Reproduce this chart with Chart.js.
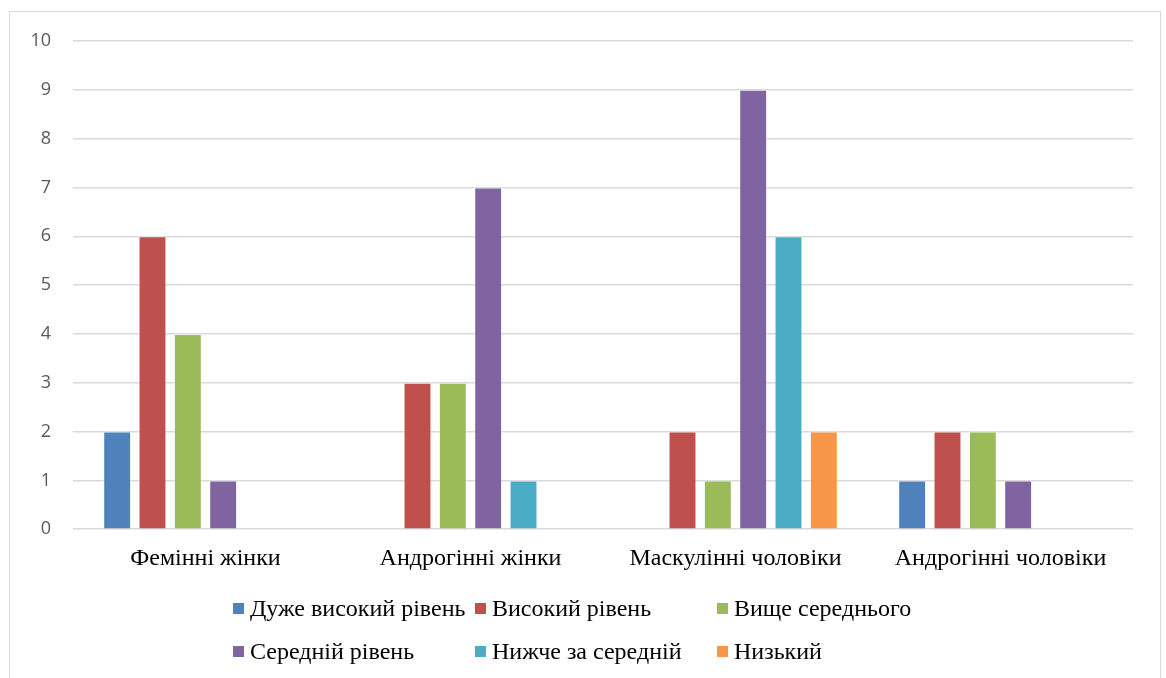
<!DOCTYPE html>
<html lang="uk">
<head>
    <meta charset="UTF-8">
    <title>Рівні за групами</title>
    <script src="https://cdn.jsdelivr.net/npm/chart.js"></script>
    <style>
        body {
            margin: 0;
            background-color: #ffffff;
            width: 1166px;
            height: 678px;
            overflow: hidden;
            position: relative;
        }
        .frame {
            position: absolute;
            left: 9px;
            top: 11px;
            width: 1150px;
            height: 700px;
            border: 1px solid #d9d9d9;
        }
        #chartWrap {
            position: absolute;
            left: 0;
            top: 0;
            width: 1166px;
            height: 678px;
        }
        #legend {
            position: absolute;
            left: 233px;
            top: 587px;
            display: grid;
            grid-template-columns: 242px 242px 242px;
            grid-auto-rows: 43px;
            font-family: "Liberation Serif", "Times New Roman", serif;
            font-size: 24px;
            color: #000000;
        }
        .legend-item {
            display: flex;
            align-items: center;
            white-space: nowrap;
        }
        .legend-box {
            width: 11px;
            height: 11px;
            margin-right: 6px;
            flex: none;
        }
    </style>
</head>
<body>
    <div class="frame"></div>
    <div id="chartWrap"><canvas id="chart"></canvas></div>
    <div id="legend"></div>

    <script>
        const categories = ['Фемінні жінки', 'Андрогінні жінки', 'Маскулінні чоловіки', 'Андрогінні чоловіки'];
        const seriesNames = ['Дуже високий рівень', 'Високий рівень', 'Вище середнього', 'Середній рівень', 'Нижче за середній', 'Низький'];

        const duzheVysokyi = [2, 0, 0, 1];
        const vysokyi = [6, 3, 2, 2];
        const vyshcheSerednoho = [4, 3, 1, 2];
        const serednii = [1, 7, 9, 1];
        const nyzhcheSerednoho = [0, 1, 6, 0];
        const nyzkyi = [0, 0, 2, 0];

        const yTicks = [0, 1, 2, 3, 4, 5, 6, 7, 8, 9, 10];

        const seriesValues = [duzheVysokyi, vysokyi, vyshcheSerednoho, serednii, nyzhcheSerednoho, nyzkyi];
        const seriesColors = ['#4f81bd', '#c0504d', '#9bbb59', '#8064a2', '#4bacc6', '#f79646'];

        const serifFont = '"Liberation Serif", "Times New Roman", serif';

        const ctx = document.getElementById('chart').getContext('2d');

        new Chart(ctx, {
            type: 'bar',
            data: {
                labels: categories,
                datasets: seriesNames.map((name, i) => ({
                    label: name,
                    data: seriesValues[i],
                    backgroundColor: seriesColors[i],
                    borderColor: 'rgba(255, 255, 255, 0.45)',
                    borderWidth: 1,
                    categoryPercentage: 0.8,
                    barPercentage: 0.79
                }))
            },
            options: {
                responsive: true,
                maintainAspectRatio: false,
                animation: false,
                layout: {
                    padding: { left: 0, right: 33, top: 41, bottom: 90 }
                },
                plugins: {
                    legend: { display: false },
                    tooltip: { enabled: false }
                },
                scales: {
                    x: {
                        grid: { display: false, drawTicks: false },
                        border: { display: false },
                        ticks: {
                            padding: 15,
                            color: '#000000',
                            font: { family: serifFont, size: 24 }
                        }
                    },
                    y: {
                        min: 0,
                        max: 10,
                        afterBuildTicks: scale => {
                            scale.ticks = yTicks.map(v => ({ value: v }));
                        },
                        afterFit: scale => {
                            scale.width = 73;
                        },
                        grid: { color: '#d9d9d9', lineWidth: 1.5, drawTicks: false },
                        border: { display: false },
                        ticks: {
                            padding: 22,
                            color: '#595959',
                            font: { family: "'Open Sans', sans-serif", size: 18 }
                        }
                    }
                }
            }
        });

        const legend = document.getElementById('legend');
        seriesNames.forEach((name, i) => {
            const item = document.createElement('div');
            item.className = 'legend-item';
            const box = document.createElement('span');
            box.className = 'legend-box';
            box.style.backgroundColor = seriesColors[i];
            const text = document.createElement('span');
            text.textContent = name;
            item.appendChild(box);
            item.appendChild(text);
            legend.appendChild(item);
        });
    </script>
</body>
</html>
